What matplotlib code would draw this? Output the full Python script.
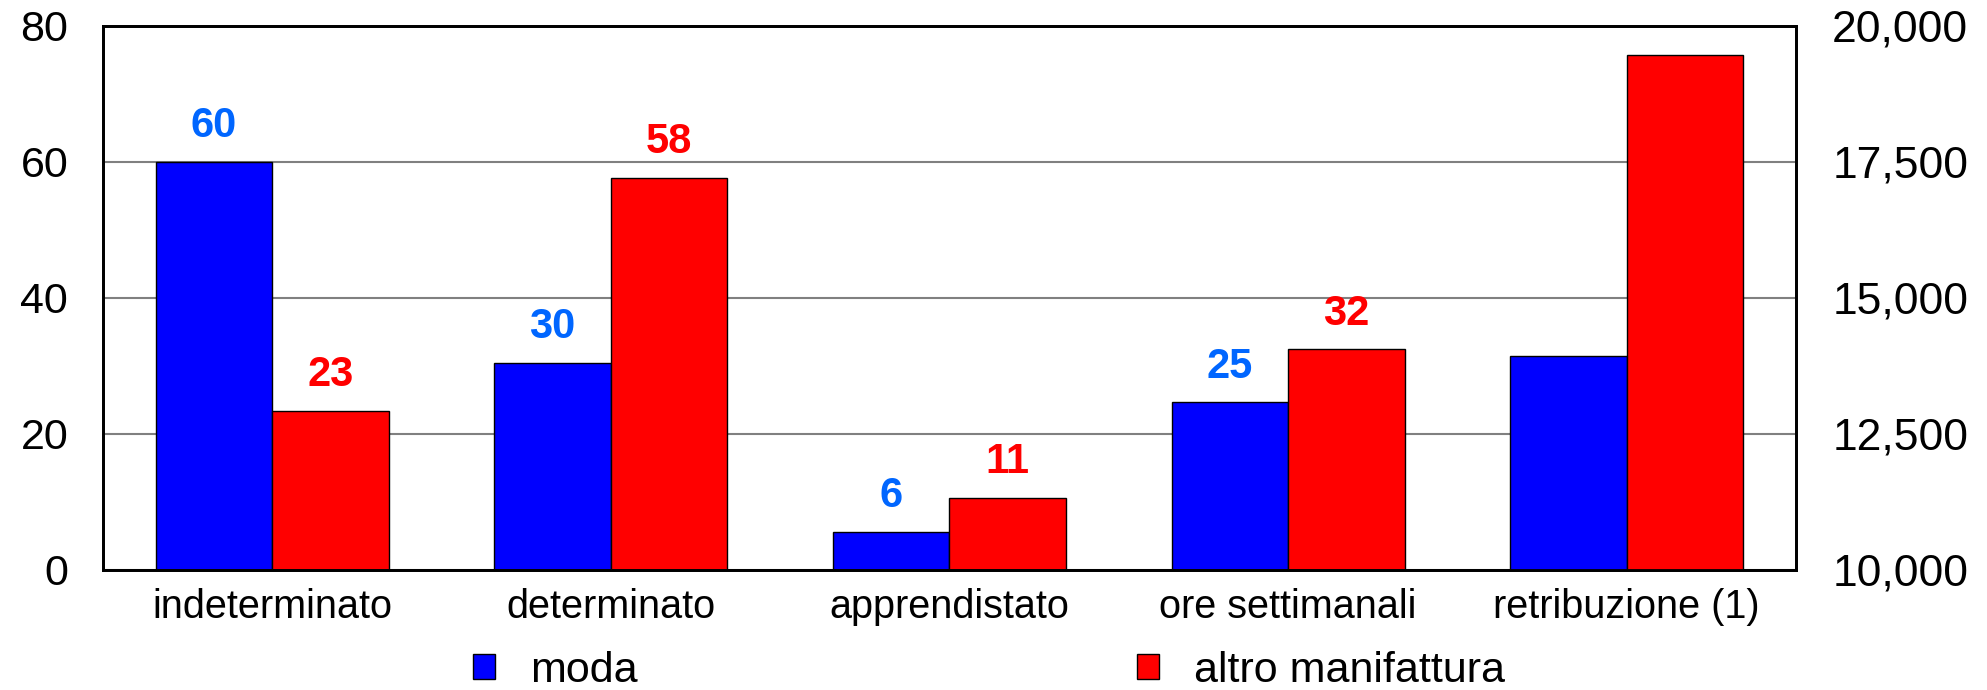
import numpy as np
import matplotlib

matplotlib.use("Agg")
import matplotlib.pyplot as plt
from matplotlib.ticker import FuncFormatter

plt.rcParams["font.family"] = ["Liberation Sans", "DejaVu Sans"]

# left-axis categories (percent / hours)
cats = ["indeterminato", "determinato", "apprendistato", "ore settimanali",
        "retribuzione (1)"]
moda = [60.0, 30.4, 5.6, 24.6]
altro = [23.4, 57.6, 10.6, 32.4]
moda_lab = ["60", "30", "6", "25"]
altro_lab = ["23", "58", "11", "32"]
# retribuzione on the right axis (euro)
moda_retr = 13920
altro_retr = 19470

series = ["moda", "altro manifattura"]
BLUE, RED = "#0000ff", "#ff0000"
LBLUE, LRED = "#0066ff", "#ff0000"
W = 0.344

fig = plt.figure(figsize=(19.87, 6.9), dpi=100)
ax = fig.add_axes([0.0518, 0.1743, 0.8521, 0.7885])
ax2 = ax.twinx()

x = np.arange(len(moda))
b1 = ax.bar(x - W / 2, moda, W, color=BLUE, edgecolor="black", lw=1,
            label=series[0])
b2 = ax.bar(x + W / 2, altro, W, color=RED, edgecolor="black", lw=1,
            label=series[1])
for xi, v, t in zip(x, moda, moda_lab):
    ax.text(xi - W / 2, v + 2.3, t, ha="center", va="bottom", color=LBLUE,
            fontsize=30, fontweight="bold")
for xi, v, t in zip(x, altro, altro_lab):
    ax.text(xi + W / 2, v + 2.3, t, ha="center", va="bottom", color=LRED,
            fontsize=30, fontweight="bold")

lo = 10000
xr = len(moda)
ax2.bar(xr - W / 2, moda_retr - lo, W, bottom=lo, color=BLUE,
        edgecolor="black", lw=1)
ax2.bar(xr + W / 2, altro_retr - lo, W, bottom=lo, color=RED,
        edgecolor="black", lw=1)

ax.set_xlim(-0.5, len(cats) - 0.5)
ax.set_ylim(0, 80)
ax.set_yticks(np.arange(0, 81, 20))
ax2.set_ylim(10000, 20000)
ax2.set_yticks(np.arange(10000, 20001, 2500))
ax2.yaxis.set_major_formatter(FuncFormatter(lambda v, p: f"{v:,.0f}"))

ax.set_xticks(np.arange(len(cats)))
ax.set_xticklabels(cats)
ax.grid(axis="y", color="#808080", lw=1.5)
ax.set_axisbelow(True)
ax.tick_params(axis="x", length=0, pad=13, labelsize=28.5)
ax.tick_params(axis="y", length=0, pad=25, labelsize=31)
ax2.tick_params(axis="y", length=0, pad=26, labelsize=32)
for a in (ax, ax2):
    for s in a.spines.values():
        s.set_linewidth(2)
        s.set_color("black")

fig.legend(handles=[b1, b2], labels=series, loc="center left",
           bbox_to_anchor=(0.238, 0.0275), ncol=2, frameon=False,
           fontsize=31, handlelength=0.52, handleheight=0.52,
           handletextpad=0.8, columnspacing=11.6, borderpad=0,
           borderaxespad=0)

fig.savefig("out.png", dpi=100)
